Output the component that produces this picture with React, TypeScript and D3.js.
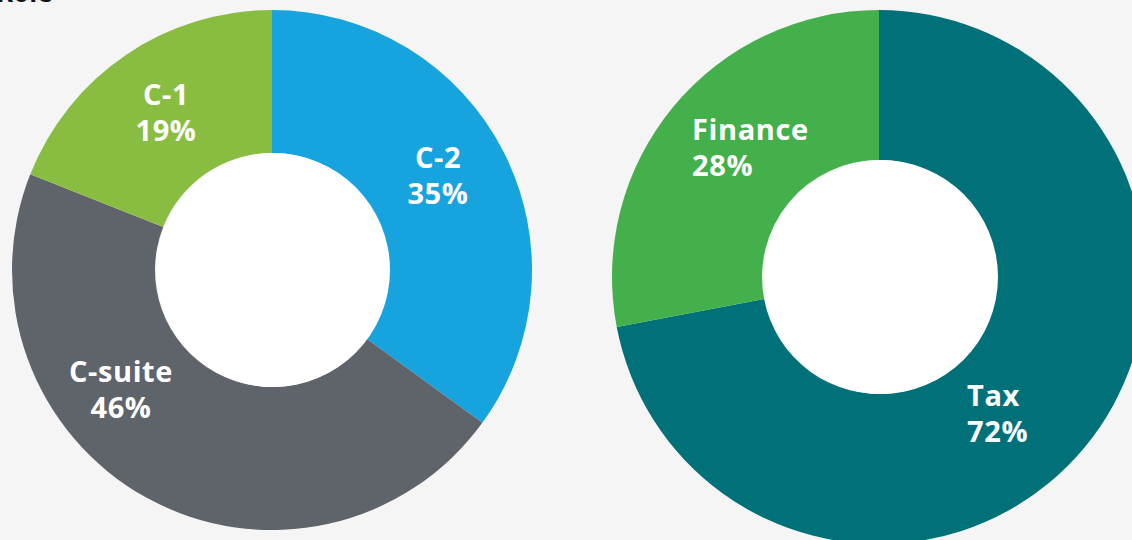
import React from "react";
import * as d3 from "d3";

const roleLabels = ["C-2", "C-suite", "C-1"];
const roleValues = [35, 46, 19];
const deptLabels = ["Tax", "Finance"];
const deptValues = [72, 28];

const roleColors = ["#17a3dd", "#5f636a", "#89bd41"];
const deptColors = ["#007179", "#44b04b"];

const W = 1132;
const H = 540;

type LabelPos = { dx: number; dy: number; anchor: string };

function Donut({
  cx, cy, outer, inner, labels, values, colors, labelPos, holeDx,
}: {
  cx: number; cy: number; outer: number; inner: number;
  labels: string[]; values: number[]; colors: string[]; labelPos: LabelPos[]; holeDx: number;
}) {
  const pie = d3.pie<number>().sort(null).value((d) => d)(values);
  const arc = d3.arc<d3.PieArcDatum<number>>().innerRadius(inner).outerRadius(outer);
  return (
    <g transform={`translate(${cx},${cy})`}>
      {pie.map((p, i) => (
        <path key={i} d={arc(p) || ""} fill={colors[i]} />
      ))}
      <circle cx={holeDx} r={inner} fill="#ffffff" />
      {pie.map((p, i) => (
        <text
          key={"t" + i}
          x={labelPos[i].dx}
          y={labelPos[i].dy}
          textAnchor={labelPos[i].anchor}
          fill="#ffffff"
          fontFamily="'Open Sans', sans-serif"
          fontWeight={700}
          fontSize={29}
          style={{ letterSpacing: "0.6px" }}
        >
          <tspan x={labelPos[i].dx}>{labels[i]}</tspan>
          <tspan x={labelPos[i].dx} dy={36}>{values[i]}%</tspan>
        </text>
      ))}
    </g>
  );
}

export default function App() {
  const roleLabelPos: LabelPos[] = [
    { dx: 166, dy: -102, anchor: "middle" },
    { dx: -151, dy: 112, anchor: "middle" },
    { dx: -106, dy: -165, anchor: "middle" },
  ];
  const deptLabelPos: LabelPos[] = [
    { dx: 88, dy: 129, anchor: "start" },
    { dx: -187, dy: -137, anchor: "start" },
  ];
  return (
    <svg
      width={W}
      height={H}
      style={{ position: "absolute", left: 0, top: 0, background: "#f5f5f5" }}
    >
      <rect width={W} height={H} fill="#f5f5f5" />
      <text x={-4} y={2} fontFamily="'Open Sans', sans-serif" fontWeight={700} fontSize={26} fill="#111">
        Role
      </text>
      <Donut cx={272} cy={270} outer={260} inner={117} holeDx={1}
        labels={roleLabels} values={roleValues} colors={roleColors} labelPos={roleLabelPos} />
      <Donut cx={879} cy={277} outer={267} inner={117} holeDx={2}
        labels={deptLabels} values={deptValues} colors={deptColors} labelPos={deptLabelPos} />
    </svg>
  );
}
